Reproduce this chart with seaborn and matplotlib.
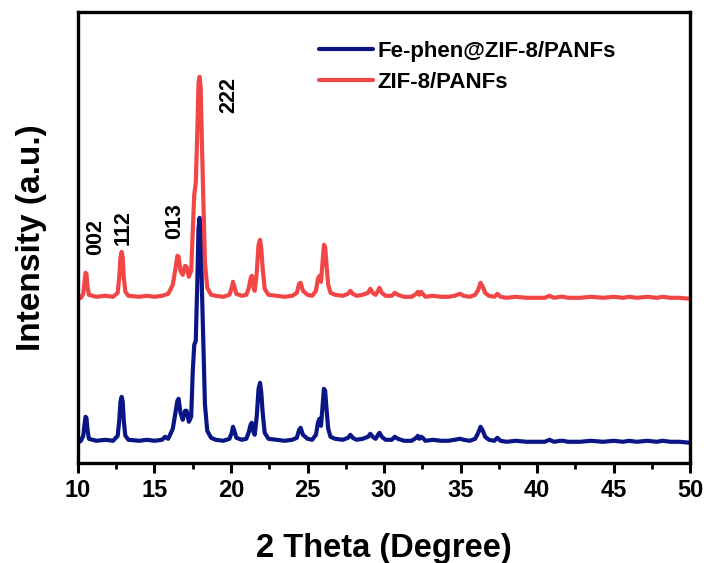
import matplotlib
matplotlib.use("Agg")
import matplotlib.pyplot as plt
import seaborn as sns
import pandas as pd
from matplotlib.ticker import MultipleLocator

sns.set_style("white")
plt.rcParams['font.family'] = ['Liberation Sans', 'DejaVu Sans']
plt.rcParams['font.weight'] = 'bold'
plt.rcParams['text.color'] = 'black'
plt.rcParams['axes.labelcolor'] = 'black'
plt.rcParams['xtick.color'] = 'black'

# ZIF-8/PANFs (red) : 2-theta (deg), intensity (a.u.)
zif_theta = [10.0, 10.2, 10.35, 10.43, 10.5, 10.56, 10.63, 10.72, 11.2, 11.8, 12.3, 12.6, 12.7, 12.78,
             12.86, 12.93, 13.0, 13.1, 13.3, 14.0, 14.5, 15.0, 15.5, 15.9, 16.2, 16.35, 16.5, 16.58,
             16.7, 16.85, 17.0, 17.1, 17.25, 17.4, 17.5, 17.6, 17.7, 17.8, 17.88, 17.95, 18.02, 18.1,
             18.2, 18.3, 18.45, 18.7, 19.0, 19.5, 19.9, 20.05, 20.13, 20.22, 20.35, 20.7, 21.0, 21.15,
             21.28, 21.36, 21.46, 21.55, 21.68, 21.8, 21.9, 21.98, 22.06, 22.2, 22.45, 23.0, 23.5, 24.0,
             24.3, 24.45, 24.55, 24.7, 25.0, 25.3, 25.55, 25.68, 25.78, 25.88, 25.98, 26.07, 26.15, 26.25,
             26.35, 26.5, 26.8, 27.3, 27.65, 27.8, 27.95, 28.2, 28.6, 28.95, 29.1, 29.25, 29.45, 29.6,
             29.7, 29.85, 30.1, 30.5, 30.7, 30.9, 31.3, 31.8, 32.1, 32.2, 32.3, 32.42, 32.52, 32.7,
             33.2, 33.7, 34.2, 34.6, 34.95, 35.2, 35.6, 35.95, 36.15, 36.3, 36.45, 36.6, 36.85, 37.2,
             37.4, 37.6, 38.0, 38.6, 39.3, 40.0, 40.5, 40.8, 41.1, 41.5, 41.7, 42.0, 42.8, 43.5,
             44.3, 45.0, 45.6, 46.0, 46.5, 47.2, 47.8, 48.2, 48.7, 49.3, 50.0]
zif_int = [164, 165, 169, 180, 190, 189, 176, 168, 166, 167, 166, 170, 185, 205,
           211, 205, 185, 171, 167, 166, 167, 166, 167, 169, 178, 192, 207, 206,
           192, 188, 197, 196, 186, 192, 230, 268, 280, 330, 380, 386, 375, 320,
           260, 200, 175, 168, 167, 166, 168, 175, 181, 176, 169, 167, 168, 174,
           184, 187, 176, 172, 190, 218, 223, 214, 196, 174, 168, 167, 166, 167,
           170, 179, 180, 172, 168, 167, 172, 184, 187, 181, 200, 218, 216, 196,
           178, 170, 168, 167, 169, 172, 169, 167, 168, 170, 174, 170, 168, 172,
           175, 170, 167, 167, 170, 168, 166, 166, 169, 171, 168, 171, 169, 166,
           167, 166, 166, 167, 169, 167, 166, 168, 173, 180, 176, 170, 167, 166,
           169, 166, 165, 166, 165, 165, 165, 167, 165, 166, 166, 165, 165, 166,
           165, 166, 165, 166, 165, 166, 165, 166, 165, 165, 164]

# Fe-phen@ZIF-8/PANFs (blue)
fe_theta = [10.0, 10.2, 10.35, 10.43, 10.5, 10.56, 10.63, 10.72, 11.2, 11.8, 12.3, 12.6, 12.7, 12.78,
            12.86, 12.93, 13.0, 13.1, 13.3, 14.0, 14.5, 15.0, 15.5, 15.7, 15.9, 16.2, 16.35, 16.5,
            16.58, 16.7, 16.85, 17.0, 17.1, 17.25, 17.4, 17.5, 17.6, 17.7, 17.8, 17.88, 17.95, 18.02,
            18.1, 18.2, 18.3, 18.45, 18.7, 19.0, 19.5, 19.9, 20.05, 20.13, 20.22, 20.35, 20.7, 21.0,
            21.15, 21.28, 21.36, 21.46, 21.55, 21.68, 21.8, 21.9, 21.98, 22.06, 22.2, 22.45, 23.0, 23.5,
            24.0, 24.3, 24.45, 24.55, 24.7, 25.0, 25.3, 25.55, 25.68, 25.78, 25.88, 25.98, 26.07, 26.15,
            26.25, 26.35, 26.5, 26.8, 27.3, 27.65, 27.8, 27.95, 28.2, 28.6, 28.95, 29.1, 29.25, 29.45,
            29.6, 29.7, 29.85, 30.1, 30.5, 30.7, 30.9, 31.3, 31.8, 32.1, 32.2, 32.3, 32.42, 32.52,
            32.7, 33.2, 33.7, 34.2, 34.6, 34.95, 35.2, 35.6, 35.95, 36.15, 36.3, 36.45, 36.6, 36.85,
            37.2, 37.4, 37.6, 38.0, 38.6, 39.3, 40.0, 40.5, 40.8, 41.1, 41.5, 41.7, 42.0, 42.8,
            43.5, 44.3, 45.0, 45.6, 46.0, 46.5, 47.2, 47.8, 48.2, 48.7, 49.3, 50.0]
fe_int = [20, 22, 27, 38, 46, 45, 33, 24, 22, 23, 22, 27, 42, 61,
          66, 61, 42, 27, 23, 22, 23, 22, 23, 26, 24, 34, 48, 62,
          64, 50, 43, 52, 52, 41, 46, 90, 118, 122, 180, 235, 245, 232, 175,
          115, 58, 32, 25, 23, 22, 24, 30, 36, 32, 25, 23, 24, 30,
          38, 40, 31, 28, 46, 74, 80, 70, 52, 30, 24, 23, 22, 23,
          25, 33, 35, 28, 24, 23, 28, 40, 44, 37, 56, 74, 72, 52,
          34, 26, 24, 23, 25, 28, 25, 23, 24, 26, 29, 26, 24, 28,
          30, 26, 23, 23, 26, 24, 22, 22, 25, 27, 24, 26, 25, 22,
          23, 22, 22, 23, 24, 23, 22, 24, 30, 36, 32, 26, 23, 22,
          25, 22, 21, 22, 21, 21, 21, 23, 21, 22, 22, 21, 21, 22,
          21, 22, 21, 22, 21, 22, 21, 22, 21, 21, 20]

peak_labels = ["002", "112", "013", "222"]
peak_label_x = [11.15, 12.95, 16.35, 19.85]
peak_label_y = [208, 218, 224, 350]

x_ticks = [10, 15, 20, 25, 30, 35, 40, 45, 50]

df_fe = pd.DataFrame({"theta": fe_theta, "intensity": fe_int})
df_zif = pd.DataFrame({"theta": zif_theta, "intensity": zif_int})

fig = plt.figure(figsize=(7.08, 5.63), dpi=100)
ax = fig.add_axes([0.110, 0.178, 0.865, 0.801])

sns.lineplot(data=df_fe, x="theta", y="intensity", color="#0A1685", linewidth=3.0,
             label="Fe-phen@ZIF-8/PANFs", ax=ax, sort=False, estimator=None)
sns.lineplot(data=df_zif, x="theta", y="intensity", color="#F24646", linewidth=3.0,
             label="ZIF-8/PANFs", ax=ax, sort=False, estimator=None)

for t, lx, ly in zip(peak_labels, peak_label_x, peak_label_y):
    ax.text(lx, ly, t, rotation=90, ha="center", va="bottom", fontsize=15.5,
            fontweight="bold", color="black")

ax.set_xlim(10, 50)
ax.set_ylim(0, 451)
ax.set_xticks(x_ticks)
ax.set_xticklabels([str(v) for v in x_ticks])
ax.xaxis.set_minor_locator(MultipleLocator(2.5))
ax.set_yticks([])
ax.tick_params(axis="x", which="major", direction="out", length=7, width=2.2,
               labelsize=17, pad=5, bottom=True, colors="black")
ax.tick_params(axis="x", which="minor", direction="out", length=4, width=2.0, bottom=True)
for lab in ax.get_xticklabels():
    lab.set_fontweight("bold")
for s in ax.spines.values():
    s.set_linewidth(2.4)
    s.set_color("black")

ax.set_xlabel("2 Theta (Degree)", fontsize=23.5, fontweight="bold", labelpad=22)
ax.set_ylabel("Intensity (a.u.)", fontsize=24, fontweight="bold", labelpad=22)

leg = ax.legend(loc="upper left", bbox_to_anchor=(0.38, 0.955), frameon=False,
                prop={"weight": "bold", "size": 16}, handlelength=2.4, handletextpad=0.2,
                labelspacing=0.45, borderaxespad=0)
for h in leg.get_lines():
    h.set_linewidth(3.0)
for t in leg.get_texts():
    t.set_color("black")

fig.savefig("out.png", dpi=100)
